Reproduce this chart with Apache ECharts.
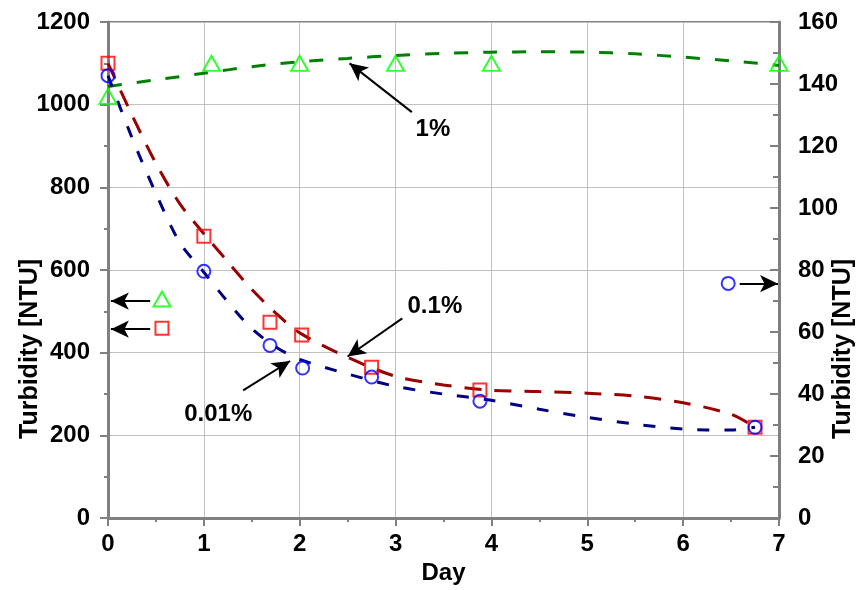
<!DOCTYPE html>
<html>
<head>
<meta charset="utf-8">
<script src="https://cdn.jsdelivr.net/npm/echarts@6/dist/echarts.min.js"></script>
<style>html,body{margin:0;padding:0;background:#fff}#c{width:856px;height:590px}</style>
</head>
<body>
<div id="c"></div>
<script>
// ---- data ----
const triDays = [0, 1.08, 2, 3, 4, 7];
const triVals = [1020, 1100, 1100, 1100, 1100, 1100];          // 1%  (left axis)
const sqDays = [0, 1, 1.69, 2.02, 2.75, 3.88, 6.75];
const sqVals = [1100, 682, 474, 443, 365, 310, 220];            // 0.1% (left axis)
const cirDays = [0, 1, 1.69, 2.03, 2.75, 3.88, 6.75];
const cirVals = [142.7, 79.6, 55.7, 48.4, 45.5, 37.7, 29.3];    // 0.01% (right axis)

const fitGDays = [0, 0.5, 1, 1.5, 2, 2.5, 3, 3.5, 4, 4.5, 5, 5.5, 6, 6.5, 7];
const fitGVals = [1044, 1060, 1076, 1092, 1104, 1112, 1119, 1124, 1127, 1128, 1127, 1123, 1115, 1106, 1095];
const fitDays = [0, 0.25, 0.5, 0.75, 1, 1.25, 1.5, 1.75, 2, 2.5, 3, 3.5, 4, 4.5, 5, 5.5, 6, 6.5, 6.75];
const fitRVals = [1100, 975, 858, 760, 688, 620, 553, 496, 448, 389, 343, 322, 309, 306, 302, 295, 279, 251, 220];
const fitBVals = [142.7, 122.7, 104.7, 88.8, 79.3, 69.7, 61.1, 55.2, 51.2, 46.5, 42.5, 40.0, 38.0, 35.1, 32.5, 30.3, 28.7, 28.4, 29.3];

const xTicks = [0, 7, 1];
const yLeft = [0, 1200, 200];
const yRight = [0, 160, 20];

// key markers (axis indicators)
const keyTri = [0.563, 530];
const keySq = [0.563, 459];
const keyCir = [6.47, 75.7];

// annotations: [label, textPos, arrowFrom, arrowTo]
const annLeft = [
  ['1%', [3.39, 940], [3.17, 982], [2.52, 1100]],
  ['0.1%', [3.41, 513], [3.07, 483], [2.50, 391]],
  ['0.01%', [1.15, 251], [1.41, 309], [1.90, 380]]
];
const keyArrowsLeft = [[[0.44, 525], [0.03, 525]], [[0.44, 457], [0.03, 457]]];
const keyArrowsRight = [[[6.59, 75.6], [6.99, 75.6]]];

const zip = (a, b) => a.map((v, i) => [v, b[i]]);
const FONT = "'Liberation Sans', Arial, sans-serif";
const axisGray = '#808080';
const plain = v => String(v);

const chart = echarts.init(document.getElementById('c'), null, {renderer: 'canvas'});
const arrowLine = {color: '#000', width: 2, type: 'solid'};

chart.setOption({
  animation: false,
  backgroundColor: '#fff',
  grid: {left: 108, right: 77, top: 22, bottom: 56, show: true, borderColor: axisGray, borderWidth: 2},
  xAxis: {
    type: 'value', min: xTicks[0], max: xTicks[1], interval: xTicks[2],
    name: 'Day', nameLocation: 'middle', nameGap: 29,
    nameTextStyle: {fontFamily: FONT, fontWeight: 'bold', fontSize: 24, color: '#000'},
    axisLine: {show: true, lineStyle: {color: axisGray, width: 3}},
    axisTick: {show: true, length: 8, lineStyle: {color: axisGray, width: 2}},
    minorTick: {show: true, splitNumber: 2, length: 4, lineStyle: {color: axisGray, width: 2}},
    splitLine: {show: true, lineStyle: {color: '#c0c0c0', width: 1}},
    axisLabel: {fontFamily: FONT, fontWeight: 'bold', fontSize: 24, color: '#000', margin: 14, formatter: plain}
  },
  yAxis: [{
    type: 'value', min: yLeft[0], max: yLeft[1], interval: yLeft[2], position: 'left',
    axisLine: {show: true, lineStyle: {color: axisGray, width: 3}},
    axisTick: {show: true, length: 8, lineStyle: {color: axisGray, width: 2}},
    minorTick: {show: true, splitNumber: 2, length: 4, lineStyle: {color: axisGray, width: 2}},
    splitLine: {show: true, lineStyle: {color: '#c0c0c0', width: 1}},
    axisLabel: {fontFamily: FONT, fontWeight: 'bold', fontSize: 24, color: '#000', margin: 18, formatter: plain}
  }, {
    type: 'value', min: yRight[0], max: yRight[1], interval: yRight[2], position: 'right',
    axisLine: {show: true, lineStyle: {color: axisGray, width: 3}},
    axisTick: {show: true, inside: true, length: 9, lineStyle: {color: axisGray, width: 2}},
    minorTick: {show: true, splitNumber: 2, length: 6, lineStyle: {color: axisGray, width: 2}},
    splitLine: {show: false},
    axisLabel: {fontFamily: FONT, fontWeight: 'bold', fontSize: 24, color: '#000', margin: 19, formatter: plain}
  }],
  graphic: [
    {type: 'text', x: 30, y: 349, rotation: Math.PI / 2,
     style: {text: 'Turbidity [NTU]', fontFamily: FONT, fontWeight: 'bold', fontSize: 25, fill: '#000', textAlign: 'center', textVerticalAlign: 'middle'}},
    {type: 'text', x: 843, y: 349, rotation: Math.PI / 2,
     style: {text: 'Turbidity [NTU]', fontFamily: FONT, fontWeight: 'bold', fontSize: 25, fill: '#000', textAlign: 'center', textVerticalAlign: 'middle'}}
  ],
  series: [
    {type: 'line', name: '1% fit', data: zip(fitGDays, fitGVals), smooth: 0.3, symbol: 'none',
     lineStyle: {color: '#008000', width: 3, type: [14, 15]}, z: 2},
    {type: 'line', name: '0.1% fit', data: zip(fitDays, fitRVals), smooth: 0.3, symbol: 'none',
     lineStyle: {color: '#990000', width: 3, type: [17, 13]}, z: 2},
    {type: 'line', name: '0.01% fit', yAxisIndex: 1, data: zip(fitDays, fitBVals), smooth: 0.3, symbol: 'none',
     lineStyle: {color: '#000080', width: 3, type: [12, 15]}, z: 2},
    {type: 'scatter', name: '1%', data: zip(triDays, triVals).concat([keyTri]), symbol: 'triangle', symbolSize: [17, 15],
     itemStyle: {color: 'rgba(0,0,0,0)', borderColor: '#00ff00', borderWidth: 2}, z: 4},
    {type: 'scatter', name: '0.1%', data: zip(sqDays, sqVals).concat([keySq]), symbol: 'rect', symbolSize: 13,
     itemStyle: {color: 'rgba(0,0,0,0)', borderColor: '#ff0000', borderWidth: 2}, z: 4},
    {type: 'scatter', name: '0.01%', yAxisIndex: 1, data: zip(cirDays, cirVals).concat([keyCir]), symbol: 'circle', symbolSize: 13,
     itemStyle: {color: 'rgba(0,0,0,0)', borderColor: '#0000ff', borderWidth: 2}, z: 4},
    {type: 'line', name: 'annL', data: [], z: 5, silent: true,
     markLine: {silent: true, symbol: ['none', 'arrow'], symbolSize: [13, 18], label: {show: false}, lineStyle: arrowLine,
       data: annLeft.map(a => [{coord: a[2]}, {coord: a[3]}]).concat(keyArrowsLeft.map(a => [{coord: a[0]}, {coord: a[1]}]))},
     markPoint: {silent: true, symbol: 'rect', symbolSize: 1, itemStyle: {color: 'rgba(0,0,0,0)'},
       label: {show: true, position: 'inside', formatter: p => p.name, fontFamily: FONT, fontWeight: 'bold', fontSize: 24, color: '#000'},
       data: annLeft.map(a => ({name: a[0], coord: a[1]}))}},
    {type: 'line', name: 'annR', yAxisIndex: 1, data: [], z: 5, silent: true,
     markLine: {silent: true, symbol: ['none', 'arrow'], symbolSize: [13, 18], label: {show: false}, lineStyle: arrowLine,
       data: keyArrowsRight.map(a => [{coord: a[0]}, {coord: a[1]}])}}
  ]
});
</script>
</body>
</html>
